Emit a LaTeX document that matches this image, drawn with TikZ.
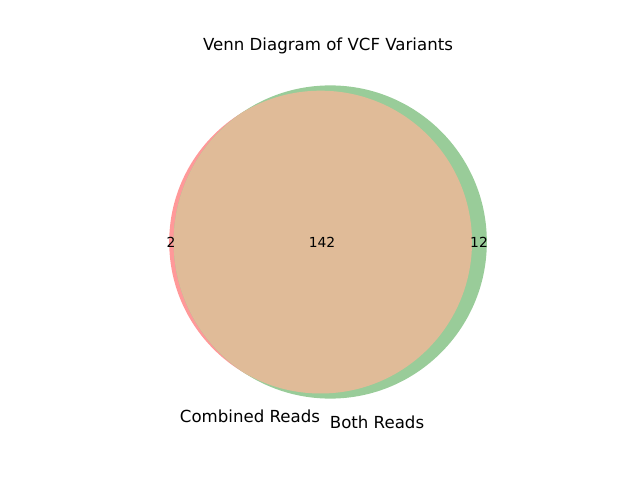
\documentclass[tikz,border=0pt]{standalone}
\usepackage{fontspec}
\setmainfont{DejaVu Sans}
\definecolor{setA}{HTML}{FF9999}
\definecolor{setB}{HTML}{99CC99}
\definecolor{setAB}{HTML}{E0BB98}
\begin{document}
\begin{tikzpicture}[x=0.01in,y=-0.01in,
  lbl/.style={inner sep=0pt,anchor=base,font=\fontsize{12}{14}\selectfont},
  num/.style={inner sep=0pt,anchor=base,font=\fontsize{10}{12}\selectfont}]
\useasboundingbox (0,0) rectangle (640,480);
\coordinate (ca) at (320.6,242.1);
\coordinate (cb) at (330.25,242);
\fill[setA] (ca) circle[radius=151.4];
\fill[setB] (cb) circle[radius=156.6];
\begin{scope}
  \clip (ca) circle[radius=151.4];
  \fill[setAB] (cb) circle[radius=156.6];
\end{scope}
\node[lbl] (title) at (328,51) {Venn Diagram of VCF Variants};
\node[num] (nA) at (171,247.5) {2};
\node[num] (nAB) at (322,247.5) {142};
\node[num] (nB) at (479,247.5) {12};
\node[lbl] (la) at (250,423) {Combined Reads};
\node[lbl] (lb) at (377,428.7) {Both Reads};
\end{tikzpicture}
\end{document}
